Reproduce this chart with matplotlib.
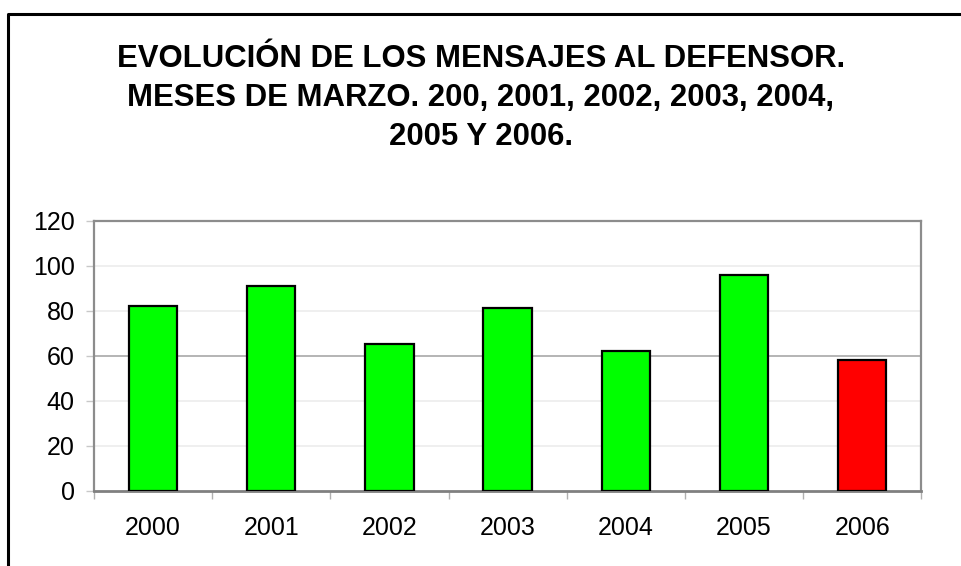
import matplotlib
matplotlib.use("Agg")
import matplotlib.pyplot as plt
from matplotlib.lines import Line2D

years = ["2000", "2001", "2002", "2003", "2004", "2005", "2006"]
mensajes = [82, 91, 65, 81, 62, 96, 58]
colores = ["#00ff00"] * 6 + ["#ff0000"]
yticks = [0, 20, 40, 60, 80, 100, 120]

titulo = ("EVOLUCIÓN DE LOS MENSAJES AL DEFENSOR.\n"
          "MESES DE MARZO. 200, 2001, 2002, 2003, 2004,\n"
          "2005 Y 2006.")

plt.rcParams["font.family"] = ["Liberation Sans", "DejaVu Sans"]

fig = plt.figure(figsize=(9.62, 5.66), dpi=100)
ax = fig.add_axes([0.0977, 0.1330, 0.8600, 0.4771])

x = list(range(len(years)))
ax.bar(x, mensajes, width=0.41, color=colores, edgecolor="black",
       linewidth=1.6, zorder=3)

ax.set_xlim(-0.5, len(years) - 0.5)
ax.set_ylim(0, 120)
ax.set_yticks(yticks)
ax.set_yticklabels([str(v) for v in yticks], fontsize=18)

# category labels centered, tick marks at category boundaries
ax.set_xticks(x)
ax.set_xticklabels(years, fontsize=18)
ax.tick_params(axis="x", which="major", length=0, pad=18)
ax.set_xticks([i - 0.5 for i in range(len(years) + 1)], minor=True)
ax.tick_params(axis="x", which="minor", length=6, width=1, color="#b0b0b0",
               direction="out")
ax.tick_params(axis="y", length=6, width=1, color="#c8c8c8", pad=8)

for v in yticks[1:-1]:
    col = "#a8a8a8" if v == 60 else "#ececec"
    ax.axhline(v, color=col, linewidth=1.2, zorder=1)

for side in ["top", "right", "left"]:
    ax.spines[side].set_color("#8c8c8c")
    ax.spines[side].set_linewidth(1.6)
ax.spines["bottom"].set_color("#808080")
ax.spines["bottom"].set_linewidth(2.0)

fig.text(0.5, 1 - 98 / 566, titulo, ha="center", va="center", fontsize=22.4,
         fontweight="bold", linespacing=1.38)

# outer frame
fx = 8 / 962
fy = 1 - 14 / 566
fig.add_artist(Line2D([fx, fx, 1.0], [0.0, fy, fy], transform=fig.transFigure,
                      color="black", linewidth=2.2))

fig.savefig("out.png", dpi=100)
